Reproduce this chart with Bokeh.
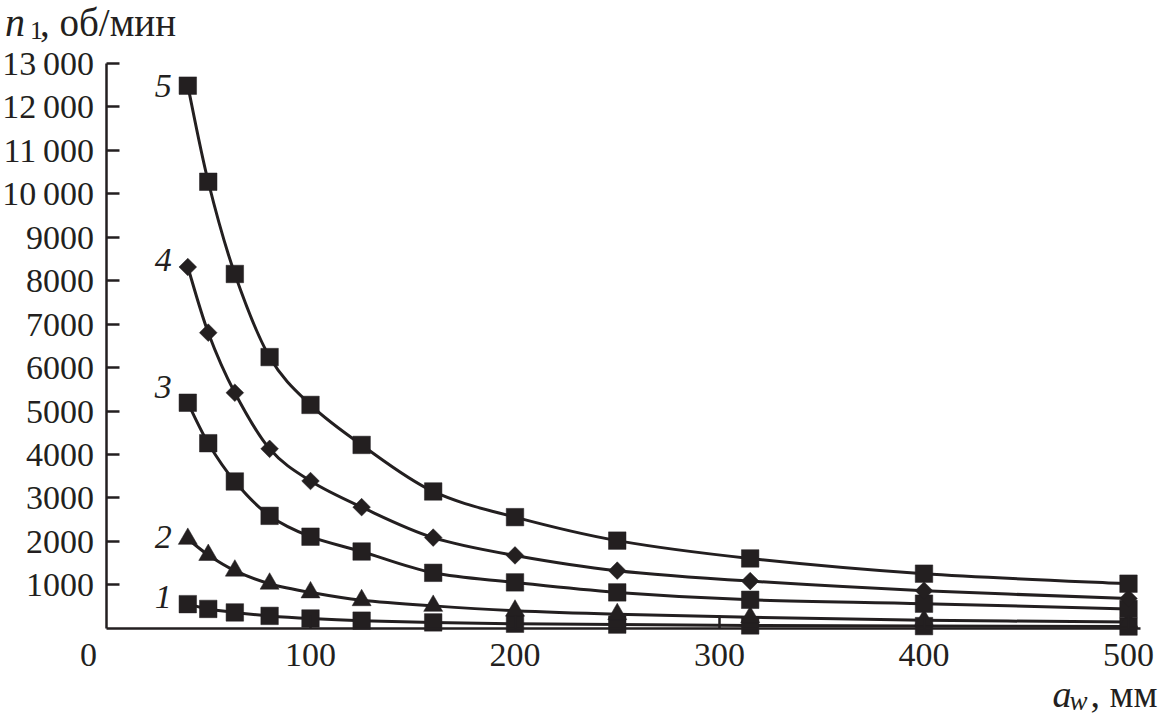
import numpy as np
from bokeh.plotting import figure
from bokeh.models import FixedTicker, ColumnDataSource, Range1d
from bokeh.core.properties import value
from bokeh.embed import file_html
from bokeh.resources import INLINE

# ---- data ----
aw = [40, 50, 63, 80, 100, 125, 160, 200, 250, 315, 400, 500]
n1_curve1 = [560, 450, 370, 290, 230, 180, 140, 110, 90, 70, 55, 45]
n1_curve2 = [2060, 1690, 1330, 1030, 830, 650, 520, 410, 330, 260, 190, 150]
n1_curve3 = [5190, 4260, 3380, 2590, 2110, 1770, 1280, 1060, 830, 660, 570, 450]
n1_curve4 = [8310, 6800, 5420, 4130, 3390, 2790, 2090, 1680, 1330, 1090, 870, 690]
n1_curve5 = [12480, 10270, 8150, 6240, 5140, 4220, 3150, 2560, 2020, 1610, 1260, 1030]
curve_labels = ["1", "2", "3", "4", "5"]

x_ticks = [100, 200, 300, 400, 500]
x_tick_labels = ["100", "200", "300", "400", "500"]
y_ticks = [1000, 2000, 3000, 4000, 5000, 6000, 7000, 8000, 9000,
           10000, 11000, 12000, 13000]
y_tick_labels = ["1000", "2000", "3000", "4000", "5000", "6000", "7000",
                 "8000", "9000", "10\u2009000", "11\u2009000",
                 "12\u2009000", "13\u2009000"]

INK = "#231f20"
FONT = "Liberation Serif"
FS = "34px"

# frame covers whole canvas; axes are fixed at the data origin
p = figure(width=1158, height=724,
           x_range=Range1d(-51.59, 514.67), y_range=Range1d(-2207, 14437),
           output_backend="svg", toolbar_location=None,
           min_border_left=0, min_border_right=0,
           min_border_top=0, min_border_bottom=0)
p.outline_line_color = None
p.grid.visible = False
p.background_fill_color = "white"
p.border_fill_color = "white"

for ax in (p.xaxis[0], p.yaxis[0]):
    ax.fixed_location = 0
    ax.axis_line_color = INK
    ax.axis_line_width = 2.5
    ax.major_tick_line_color = INK
    ax.major_tick_line_width = 2.5
    ax.major_tick_in = 13
    ax.major_tick_out = 0
    ax.minor_tick_line_color = None
    ax.major_label_text_font = FONT
    ax.major_label_text_font_size = FS
    ax.major_label_text_color = INK

p.xaxis[0].ticker = FixedTicker(ticks=x_ticks)
p.xaxis[0].major_label_overrides = dict(zip(x_ticks, x_tick_labels))
p.xaxis[0].major_label_standoff = 16
p.xaxis[0].bounds = (0, 506)
p.yaxis[0].ticker = FixedTicker(ticks=y_ticks)
p.yaxis[0].major_label_overrides = dict(zip(y_ticks, y_tick_labels))
p.yaxis[0].major_label_standoff = 12
p.yaxis[0].bounds = (0, 13000)


def bezier_source(xs, ys):
    x = np.asarray(xs, float)
    y = np.asarray(ys, float)
    n = len(x)
    xp = np.concatenate([[x[0]], x, [x[-1]]])
    yp = np.concatenate([[y[0]], y, [y[-1]]])
    cx0 = xp[1:n] + (xp[2:n + 1] - xp[0:n - 1]) / 6.0
    cy0 = yp[1:n] + (yp[2:n + 1] - yp[0:n - 1]) / 6.0
    cx1 = xp[2:n + 1] - (xp[3:n + 2] - xp[1:n]) / 6.0
    cy1 = yp[2:n + 1] - (yp[3:n + 2] - yp[1:n]) / 6.0
    return ColumnDataSource(dict(x0=x[:-1], y0=y[:-1], x1=x[1:], y1=y[1:],
                                 cx0=cx0, cy0=cy0, cx1=cx1, cy1=cy1))


series = [n1_curve1, n1_curve2, n1_curve3, n1_curve4, n1_curve5]
for ys in series:
    p.bezier(x0="x0", y0="y0", x1="x1", y1="y1", cx0="cx0", cy0="cy0",
             cx1="cx1", cy1="cy1", source=bezier_source(aw, ys),
             line_color=INK, line_width=3)

marker_style = [("square", 17.5, 0.0), ("triangle", 19, 0.0), ("square", 17.5, 0.0),
                ("square", 12.5, np.pi / 4), ("square", 17.5, 0.0)]
for ys, (mk, sz, ang) in zip(series, marker_style):
    p.scatter(aw, ys, marker=mk, size=sz, angle=ang,
              fill_color=INK, line_color=INK, line_width=0.5)

# curve numbers
lab_src = ColumnDataSource(dict(
    x=[28] * 5,
    y=[s[0] for s in series],
    t=curve_labels,
    dy=[-7, -2, -16, -7, 0],
))
p.text(x="x", y="y", text="t", y_offset="dy", source=lab_src,
       text_font=value(FONT), text_font_style="italic",
       text_font_size=FS, text_color=INK,
       text_align="center", text_baseline="middle")


def note(x, y, txt, dx, dy, size=FS, style="normal", align="left",
         baseline="alphabetic"):
    p.text(x=[x], y=[y], text=[txt], x_offset=dx, y_offset=dy,
           text_font=value(FONT), text_font_size=size, text_font_style=style,
           text_color=INK, text_align=align, text_baseline=baseline)


# origin label
note(0, 0, "0", -17.5, 27, align="center", baseline="middle")

# y axis title: n1, об/мин
note(0, 13000, "n", -101, -41, size="40px", style="italic")
note(0, 13000, "1", -76, -33, size="26px")
note(0, 13000, ", об/мин", -66, -41, size="39px")

# x axis title: a_w, мм
note(500, 0, "a", -76, 66, size="38px", style="italic")
note(500, 0, "w", -59, 73, size="27px", style="italic")
note(500, 0, ", мм", 29, 66, size="38px", align="right")

open("out.html", "w").write(file_html(p, INLINE))
